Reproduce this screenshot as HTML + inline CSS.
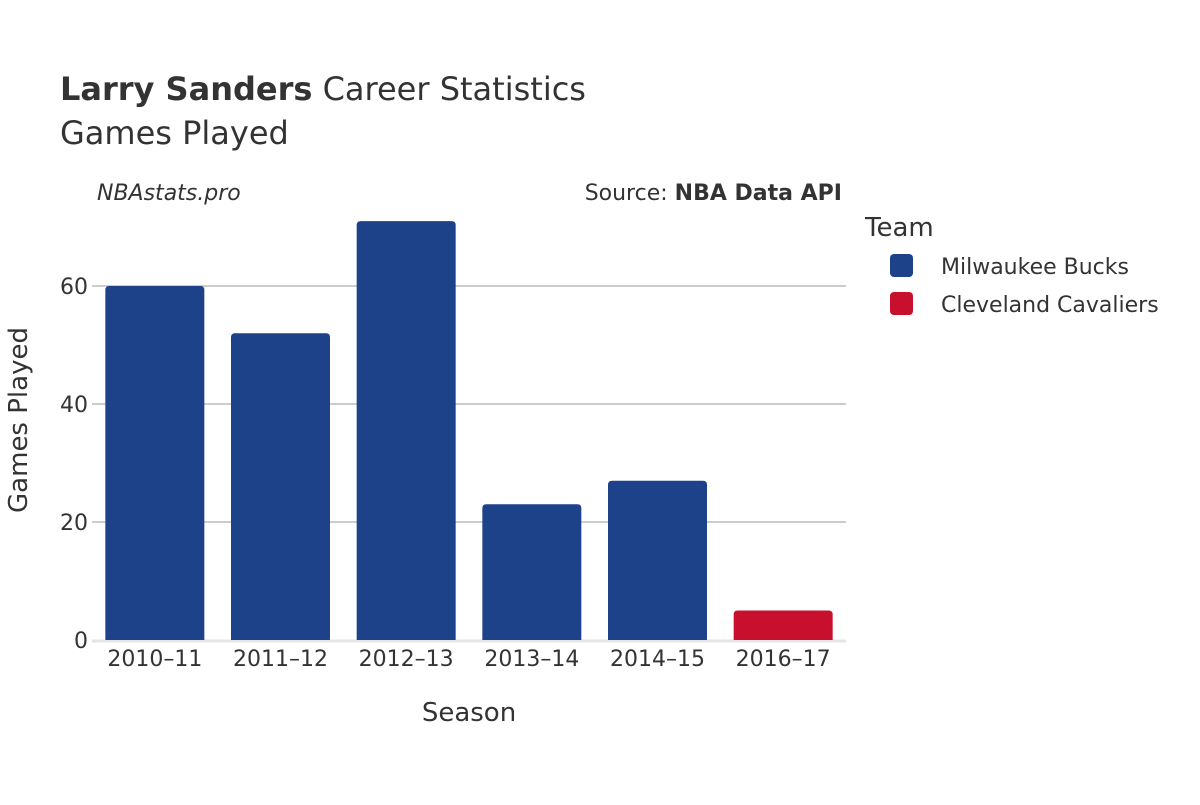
<!DOCTYPE html>
<html><head><meta charset="utf-8"><style>
body{margin:0;background:#fff}
svg text{font-family:"DejaVu Sans","Liberation Sans",sans-serif;fill:#333}
</style></head><body>
<svg id="chart" width="1200" height="800" xmlns="http://www.w3.org/2000/svg">
<text x="60" y="100" font-size="32"><tspan font-weight="bold">Larry Sanders</tspan> Career Statistics</text>
<text x="60" y="144" font-size="32">Games Played</text>
<text x="97" y="200" font-size="22" font-style="italic">NBAstats.pro</text>
<text x="842" y="200" font-size="22" text-anchor="end">Source: <tspan font-weight="bold">NBA Data API</tspan></text>
<g id="grid"></g>
<g id="bars"></g>
<g id="xticks"></g>
<text x="469" y="721" font-size="26" text-anchor="middle">Season</text>
<text transform="translate(27,420) rotate(-90)" font-size="26" text-anchor="middle">Games Played</text>
<text x="865" y="236" font-size="26">Team</text>
<g><rect x="890" y="254" width="23" height="23" rx="4" fill="#1d428a"/><text x="941" y="274" font-size="22">Milwaukee Bucks</text></g>
<g><rect x="890" y="292" width="23" height="23" rx="4" fill="#c8102e"/><text x="941" y="312" font-size="22">Cleveland Cavaliers</text></g>
</svg>
<script>
const seasons=["2010–11","2011–12","2012–13","2013–14","2014–15","2016–17"];
const games=[60,52,71,23,27,5];
const teams=["MIL","MIL","MIL","MIL","MIL","CLE"];
const yTicks=[0,20,40,60];
const colors={MIL:"#1d428a",CLE:"#c8102e"};
const NS="http://www.w3.org/2000/svg";
const x0=92,x1=846,y0=640,pxPer=5.9;
const band=(x1-x0)/seasons.length;
const yS=v=>y0-v*pxPer;
const grid=document.getElementById('grid'),bars=document.getElementById('bars'),xt=document.getElementById('xticks');
function mk(tag,at,parent){const e=document.createElementNS(NS,tag);for(const k in at)e.setAttribute(k,at[k]);parent.appendChild(e);return e;}
yTicks.forEach(v=>{
  if(v>0){const l=mk('line',{x1:x0,x2:x1,y1:yS(v),y2:yS(v),stroke:'#999','stroke-width':1},grid);
  
  }
  const t=mk('text',{x:x0-4,y:yS(v)+8,'font-size':22,'text-anchor':'end'},grid);t.textContent=v;
  
  
});
const bl=mk('line',{x1:x0,x2:x1,y1:y0+1,y2:y0+1,stroke:'#e5e5e5','stroke-width':3},grid);


seasons.forEach((s,i)=>{
  const cx=x0+band*(i+0.5),w=99,top=yS(games[i]),r=4,l=cx-w/2,rgt=cx+w/2;
  const p=mk('path',{d:`M${l},${y0}V${top+r}Q${l},${top} ${l+r},${top}H${rgt-r}Q${rgt},${top} ${rgt},${top+r}V${y0}Z`,fill:colors[teams[i]]},bars);
  
  
  const t=mk('text',{x:cx,y:666,'font-size':22,'text-anchor':'middle'},xt);t.textContent=s;
  
  
});
</script>
</body></html>
